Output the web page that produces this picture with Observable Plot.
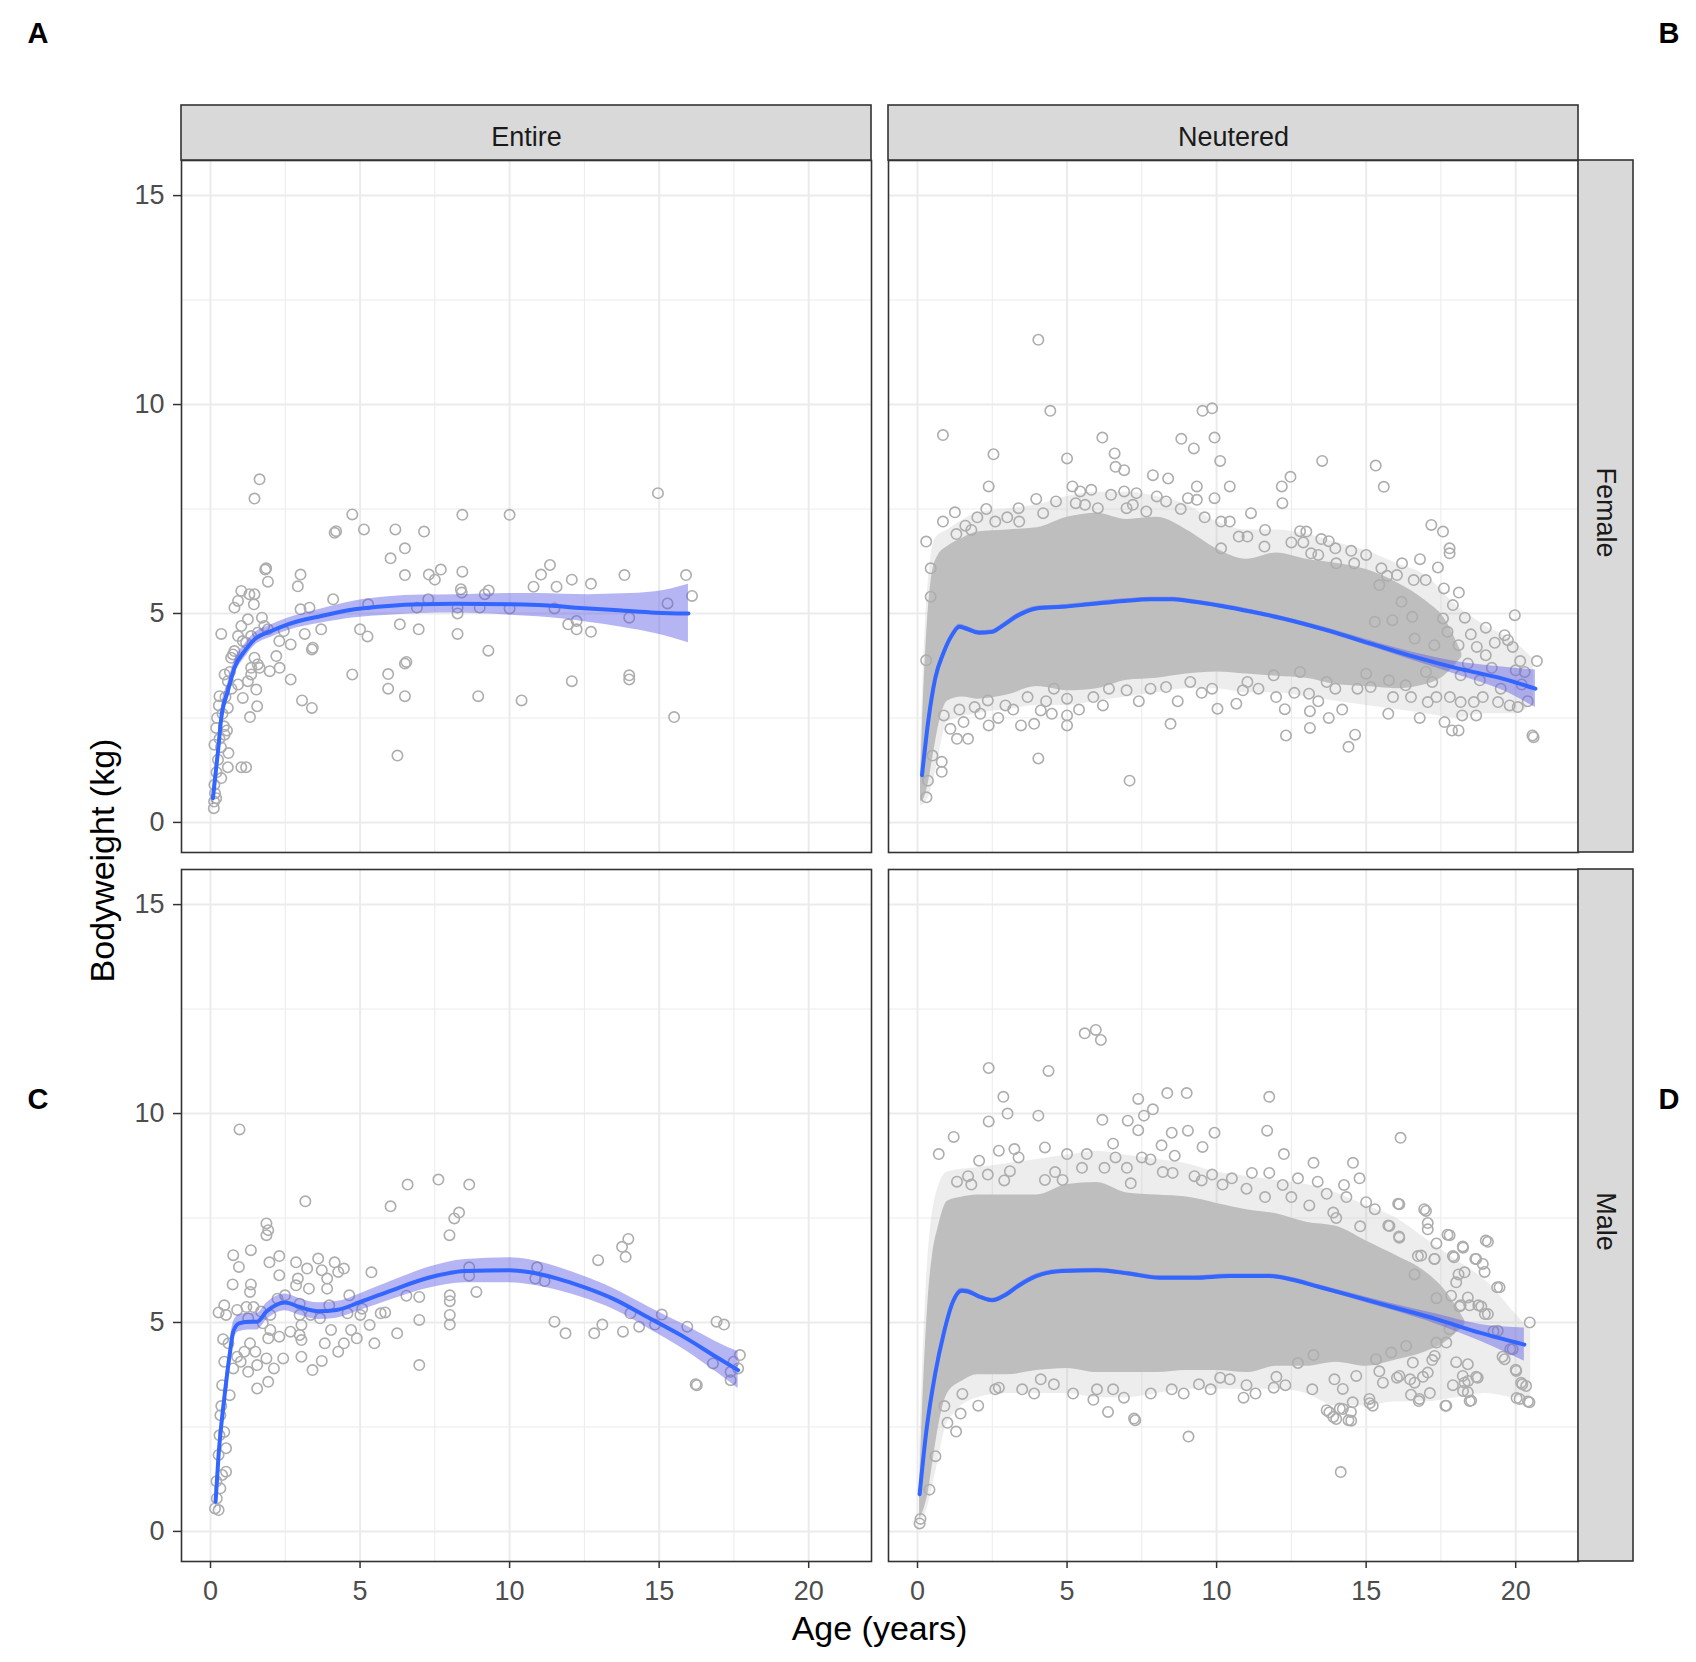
<!DOCTYPE html>
<html>
<head>
<meta charset="utf-8">
<script src="https://cdn.jsdelivr.net/npm/d3@7"></script>
<script src="https://cdn.jsdelivr.net/npm/@observablehq/plot@0.6"></script>
<style>
  html, body { margin: 0; padding: 0; background: #fff; }
  #wrap { position: relative; width: 1696px; height: 1662px; font-family: "Liberation Sans", Arial, sans-serif; }
  #over { position: absolute; left: 0; top: 0; pointer-events: none; }
</style>
</head>
<body>
<div id="wrap"></div>
<script>
// ---------- categories & ticks ----------
const statuses = ["Entire", "Neutered"];
const sexes = ["Female", "Male"];
const panelLetters = ["A", "B", "C", "D"];
const xTicks = [0, 5, 10, 15, 20];
const xMinor = [2.5, 7.5, 12.5, 17.5];
const yTicks = [0, 5, 10, 15];
const yMinor = [2.5, 7.5, 12.5];
const xLabel = "Age (years)";
const yLabel = "Bodyweight (kg)";

// ---------- observed points [age, weight] ----------
const EF_points = [[1.64,8.21],[1.47,7.75],[4.74,7.37],[8.42,7.36],[10.0,7.36],[14.96,7.88],[4.15,6.93],[4.2,6.97],[5.13,7.01],[6.18,7.01],[7.14,6.96],[6.5,6.56],[6.02,6.32],[1.83,6.05],[1.86,6.08],[1.92,5.76],[3.01,5.93],[2.92,5.65],[6.5,5.92],[7.3,5.93],[7.5,5.81],[7.7,6.05],[8.42,6.0],[11.05,5.93],[11.35,6.16],[10.8,5.64],[11.57,5.64],[12.08,5.81],[12.72,5.71],[13.84,5.92],[15.9,5.92],[16.1,5.42],[15.28,5.24],[8.37,5.58],[8.4,5.5],[9.3,5.55],[9.17,5.46],[8.26,5.14],[8.26,5.0],[9.0,5.14],[10.0,5.12],[11.5,5.12],[7.28,5.34],[6.9,5.14],[5.27,5.22],[4.1,5.34],[3.31,5.14],[3.01,5.1],[11.96,4.74],[12.24,4.82],[12.24,4.62],[12.72,4.56],[14.0,4.9],[6.33,4.74],[6.96,4.62],[8.26,4.51],[5.25,4.45],[5.0,4.62],[3.7,4.62],[3.15,4.51],[3.39,4.14],[3.42,4.18],[9.29,4.11],[6.5,3.8],[6.55,3.84],[5.94,3.55],[5.94,3.2],[6.5,3.02],[4.74,3.54],[2.68,3.42],[3.06,2.92],[3.39,2.74],[8.95,3.02],[10.4,2.92],[12.08,3.38],[14.0,3.52],[14.0,3.42],[15.5,2.52],[6.25,1.6],[0.36,4.51],[1.32,2.52],[1.56,2.78],[1.03,1.32],[1.19,1.32],[0.58,1.32],[0.6,1.66],[1.03,5.54],[1.3,5.46],[1.47,5.46],[0.8,5.14],[0.92,5.3],[1.45,5.22],[1.25,4.86],[1.72,4.9],[1.03,4.7],[0.92,4.46],[1.19,4.3],[1.92,4.62],[2.2,3.98],[2.31,3.7],[1.98,3.62],[1.58,3.78],[1.36,3.54],[1.53,3.18],[1.08,2.98],[0.92,3.3],[0.75,4.02],[0.47,3.54],[0.58,2.74],[0.3,3.02],[0.19,2.26],[0.13,1.86],[0.13,0.9],[0.11,0.34],[0.19,0.58],[0.36,1.06],[0.47,2.1],[0.69,3.94],[0.8,4.1],[0.58,3.38],[1.25,3.38],[1.47,3.94],[1.64,3.7],[1.36,3.7],[1.08,4.34],[1.36,4.46],[1.58,4.54],[1.8,4.7],[2.3,4.34],[2.68,4.26],[2.45,4.58],[0.2,1.2],[0.25,1.5],[0.3,2.0],[0.15,0.7],[0.4,2.6],[0.5,3.0],[0.65,3.6],[0.22,2.5],[0.35,1.8],[0.45,2.3],[0.12,0.5],[0.28,2.8],[0.55,2.2],[0.7,3.2]];

const EM_points = [[0.97,9.62],[3.17,7.9],[6.59,8.3],[7.62,8.42],[8.65,8.3],[6.02,7.78],[8.31,7.63],[8.15,7.49],[7.99,7.09],[1.87,7.37],[1.93,7.21],[1.87,7.09],[0.76,6.61],[1.35,6.73],[0.95,6.33],[1.97,6.44],[2.3,6.59],[2.86,6.44],[3.6,6.53],[4.15,6.44],[4.46,6.29],[4.27,6.21],[3.23,6.29],[3.72,6.25],[2.3,6.13],[2.92,6.05],[2.86,5.89],[3.9,6.05],[3.9,5.81],[3.29,5.81],[0.74,5.91],[1.35,5.91],[1.32,5.73],[5.38,6.2],[12.96,6.49],[13.97,7.0],[13.76,6.81],[13.88,6.57],[10.92,6.32],[8.65,6.32],[8.65,6.12],[10.86,6.05],[11.17,5.99],[8.89,5.73],[8.0,5.65],[8.0,5.51],[8.0,5.18],[8.0,4.95],[6.98,5.61],[6.55,5.64],[6.98,5.06],[5.84,5.24],[6.24,4.74],[5.48,4.5],[6.98,3.98],[11.5,5.02],[11.87,4.74],[12.83,4.74],[13.1,4.95],[13.79,4.78],[14.33,4.9],[14.86,4.95],[14.04,5.22],[15.09,5.19],[15.94,4.9],[16.92,5.02],[17.17,4.95],[17.7,4.22],[17.49,4.06],[16.8,4.02],[17.39,3.82],[17.39,3.62],[16.22,3.52],[16.26,3.5],[17.64,3.9],[0.27,5.24],[0.46,5.41],[0.52,5.18],[0.89,5.3],[1.2,5.37],[1.44,5.37],[1.69,5.26],[1.26,5.1],[1.75,4.98],[2.0,5.18],[2.24,5.57],[2.49,5.65],[2.98,5.45],[2.98,5.18],[3.04,4.94],[2.98,4.7],[3.04,4.58],[2.67,4.78],[2.3,4.66],[2.0,4.82],[1.93,4.62],[1.32,4.5],[1.13,4.3],[0.89,4.18],[0.76,3.9],[1.26,3.82],[1.56,3.42],[1.93,3.58],[2.12,3.9],[2.43,4.14],[1.87,4.14],[1.56,3.98],[1.01,4.06],[1.5,4.3],[3.04,4.18],[3.41,3.86],[3.72,4.08],[3.82,4.5],[4.27,4.3],[4.46,4.5],[4.03,4.82],[4.7,4.82],[4.89,4.62],[5.32,4.94],[5.01,5.18],[4.58,5.22],[3.97,5.41],[4.64,5.65],[5.07,5.33],[5.69,5.22],[3.66,5.1],[3.35,5.18],[0.46,4.06],[0.39,3.5],[0.64,3.26],[0.33,2.78],[0.46,2.38],[0.27,1.83],[0.39,1.35],[0.21,0.79],[0.27,0.51],[0.15,0.55],[0.52,1.43],[0.52,1.99],[0.33,1.03],[0.36,3.0],[0.42,4.6],[0.6,4.5],[0.2,1.2],[0.3,2.3]];

const NF_points = [[4.04,11.55],[4.44,9.85],[0.85,9.27],[6.18,9.21],[9.53,9.85],[9.85,9.91],[9.93,9.21],[8.82,9.18],[9.24,8.95],[10.12,8.65],[2.54,8.81],[5.0,8.71],[6.59,8.83],[2.38,8.04],[13.53,8.65],[15.32,8.54],[15.59,8.03],[12.18,8.04],[12.47,8.27],[12.2,7.64],[11.15,7.4],[10.44,8.04],[9.34,8.04],[17.18,7.12],[17.57,6.96],[17.79,6.56],[17.79,6.44],[11.62,7.0],[12.79,6.97],[13.0,6.96],[13.5,6.78],[13.75,6.73],[13.97,6.56],[14.0,6.2],[13.16,6.44],[15.51,6.08],[16.03,5.92],[16.99,5.8],[17.57,4.88],[19.0,4.66],[19.97,4.96],[19.63,4.48],[19.74,4.36],[20.15,3.86],[20.71,3.86],[20.0,3.64],[20.07,2.76],[20.56,2.08],[20.6,2.04],[19.41,2.88],[18.68,2.56],[18.21,2.56],[18.6,2.88],[18.16,2.88],[17.87,2.2],[18.09,2.2],[17.62,2.4],[16.79,2.5],[15.74,2.6],[14.63,2.1],[14.41,1.81],[13.75,2.5],[13.12,2.26],[12.32,2.08],[13.12,2.66],[12.28,2.71],[11.99,3.0],[10.66,2.84],[10.03,2.72],[8.46,2.36],[7.09,1.0],[4.04,1.53],[5.0,2.32],[5.0,2.56],[4.49,2.6],[4.12,2.68],[3.9,2.36],[3.46,2.32],[2.38,2.32],[1.69,2.0],[1.32,2.0],[0.81,1.45],[0.81,1.21],[0.29,3.88],[0.44,5.4],[0.44,6.08],[0.29,6.72],[1.25,7.42],[0.85,7.2],[3.38,7.52],[3.97,7.74],[4.63,7.68],[5.18,8.04],[5.44,7.92],[5.81,7.96],[6.47,7.84],[6.91,7.92],[7.32,7.88],[7.87,8.31],[8.38,8.23],[8.31,7.68],[7.65,7.44],[6.99,7.52],[6.03,7.52],[5.29,7.64],[6.62,8.51],[6.91,8.43],[9.04,7.76],[9.34,7.72],[9.93,7.76],[10.15,7.2],[10.44,7.2],[10.74,6.84],[11.03,6.84],[10.15,6.56],[15.0,3.56],[15.29,4.8],[15.88,4.84],[16.54,4.92],[16.62,4.4],[17.28,4.24],[18.09,4.24],[17.72,4.56],[18.16,3.52],[17.21,3.36],[17.35,3.0],[17.06,2.88],[16.32,3.28],[15.76,3.4],[15.15,3.24],[14.71,3.2],[13.97,3.2],[13.68,3.36],[13.09,3.08],[12.79,3.6],[11.91,3.52],[11.03,3.36],[10.88,3.16],[9.85,3.2],[9.12,3.36],[8.31,3.24],[7.79,3.2],[6.99,3.16],[6.4,3.2],[5.88,3.0],[5.0,2.96],[4.56,3.2],[3.68,3.0],[2.94,2.8],[2.35,2.92],[1.91,2.76],[1.54,2.4],[1.1,2.24],[0.88,2.56],[16.59,5.8],[15.44,5.68],[16.18,5.28],[1.6,7.1],[2.0,7.3],[2.6,7.2],[3.0,7.3],[1.3,6.9],[4.2,7.4],[8.8,7.5],[12.5,6.7],[14.5,6.5],[15.0,6.4],[16.2,6.2],[18.5,4.5],[19.0,4.0],[18.8,3.4],[19.5,3.2],[20.2,3.3],[20.4,2.9],[19.2,3.7],[0.3,0.6],[0.35,1.0],[0.5,1.6],[17.9,5.2],[18.3,4.9],[18.7,4.2],[19.3,4.3],[17.6,5.6],[18.1,5.5],[16.8,6.3],[17.4,6.1],[18.9,3.0],[19.8,2.8],[20.3,3.6],[19.9,4.2],[17.0,3.6],[17.8,3.0],[16.5,3.0],[15.9,3.0],[18.4,3.8],[14.2,2.7],[13.4,2.9],[12.6,3.1],[11.4,3.2],[9.5,3.1],[8.7,2.9],[7.4,2.9],[6.2,2.8],[5.4,2.7],[4.3,2.9],[3.2,2.7],[2.7,2.5],[2.1,2.6],[1.4,2.7],[1.8,7.0],[2.3,7.5],[3.4,7.2],[5.6,7.6],[7.2,7.6],[8.0,7.8],[9.6,7.3],[11.6,6.6],[12.9,6.7],[13.4,6.4],[14.6,6.2],[15.7,5.9]];

const NM_points = [[5.59,11.92],[5.96,12.0],[6.13,11.76],[2.38,11.09],[4.38,11.02],[2.87,10.4],[3.01,10.0],[2.38,9.81],[4.04,9.95],[7.38,10.35],[7.87,10.1],[7.57,9.95],[8.35,10.49],[9.0,10.49],[11.76,10.4],[11.69,9.59],[16.15,9.42],[6.18,9.85],[7.03,9.83],[7.38,9.6],[8.5,9.54],[9.04,9.59],[9.93,9.54],[1.21,9.44],[0.71,9.03],[2.06,8.87],[12.25,9.03],[13.24,8.82],[14.56,8.82],[14.78,8.45],[16.07,7.84],[16.94,7.71],[15.74,7.32],[17.72,7.1],[19.0,6.96],[18.24,6.79],[18.65,6.52],[18.9,6.4],[19.38,5.84],[18.97,5.2],[20.47,5.0],[18.75,5.41],[19.26,4.79],[19.82,4.36],[19.56,4.18],[20.0,3.87],[20.22,3.52],[20.03,3.19],[20.41,3.11],[18.68,3.7],[18.41,3.6],[18.24,3.36],[18.46,3.12],[18.01,4.05],[17.65,3.01],[16.76,3.12],[16.5,3.27],[16.47,3.64],[16.03,3.68],[15.12,3.07],[14.49,2.86],[14.12,2.94],[13.68,2.9],[13.9,2.74],[14.41,2.66],[14.15,1.42],[9.06,2.27],[7.24,2.7],[7.28,2.66],[6.37,2.86],[5.88,3.15],[6.54,3.4],[2.03,3.01],[1.29,2.39],[1.44,2.82],[1.5,3.29],[2.72,3.44],[4.56,3.52],[4.12,3.64],[9.41,3.52],[10.12,3.68],[10.44,3.64],[11.91,3.44],[12.72,4.03],[13.24,4.22],[17.13,3.31],[15.44,3.83],[17.21,4.1],[17.79,4.84],[1.32,8.37],[1.69,8.5],[2.35,8.54],[2.72,9.11],[3.24,9.15],[3.38,8.95],[4.26,9.19],[5.0,9.03],[5.66,9.03],[6.54,9.28],[6.62,8.95],[6.25,8.7],[7.5,8.95],[7.79,8.9],[8.16,9.24],[8.6,8.99],[9.53,9.2],[9.85,8.54],[9.26,8.5],[8.53,8.58],[7.13,8.33],[4.85,8.41],[4.26,8.41],[3.09,8.62],[11.18,8.58],[11.76,8.58],[12.72,8.45],[13.38,8.37],[14.26,8.29],[13.68,8.08],[14.34,8.0],[15.0,7.88],[15.29,7.71],[13.9,7.63],[12.21,8.29],[11.62,8.0],[10.51,8.45],[17.06,7.38],[17.35,6.89],[16.84,6.6],[17.28,6.52],[17.94,6.56],[16.1,7.06],[16.62,6.15],[18.09,6.15],[18.16,5.41],[18.46,5.41],[17.35,5.58],[0.07,0.19],[0.1,0.3],[0.4,1.0],[0.6,1.8],[1.0,2.6],[0.9,3.0],[3.5,3.4],[5.2,3.3],[7.8,3.3],[8.5,3.4],[11.3,3.3],[12.3,3.5],[10.9,3.2],[13.2,3.4],[16.9,3.7],[17.9,3.5],[16.11,7.83],[17.0,7.67],[15.78,7.31],[16.11,7.03],[17.06,7.23],[17.79,7.09],[19.07,6.93],[18.23,6.82],[18.68,6.52],[18.96,6.21],[17.9,6.59],[17.29,6.52],[16.73,6.59],[19.46,5.84],[18.29,6.2],[18.01,5.96],[17.84,5.64],[18.4,5.6],[18.85,5.38],[19.07,5.2],[18.12,5.38],[19.4,4.8],[19.9,4.36],[19.63,4.12],[20.02,3.84],[20.18,3.56],[20.35,3.48],[20.13,3.17],[20.46,3.09],[18.73,3.68],[18.4,4.0],[17.68,4.52],[17.68,3.01],[18.29,3.56],[18.4,3.33],[18.51,3.13],[18.23,3.72],[16.78,3.17],[16.62,3.56],[17.06,3.8],[16.11,3.72],[15.56,3.56],[15.11,3.17],[15.22,3.01],[14.55,3.09],[14.22,2.93],[13.77,2.85],[14.0,2.69],[14.5,2.65],[14.22,3.41],[13.94,3.64],[14.67,3.72],[16.56,4.04],[17.29,4.2],[17.35,4.52],[16.34,4.44],[15.84,4.28],[15.33,4.12],[2.6,3.4],[3.9,3.3],[6.0,3.4],[6.9,3.2],[8.9,3.3],[9.8,3.4],[11.0,3.5],[12.0,3.7],[1.8,8.3],[2.9,8.4],[4.6,8.6],[5.5,8.7],[7.0,8.7],[8.2,8.6],[9.5,8.4],[10.2,8.3],[11.0,8.2],[12.5,8.0],[13.1,7.8],[14.0,7.5],[14.8,7.3]];

// ---------- dense point mass in the neutered panels (read envelopes) ----------
const NF_core_age = [0.1, 0.2, 0.35, 0.5, 0.7, 1.0, 1.5, 2, 3, 4, 5, 6, 7, 8, 9, 10, 11, 12, 13, 14, 15, 16, 17, 17.6, 18.2];
const NF_core_lo  = [0.5, 0.55, 0.9, 1.5, 2.3, 2.9, 3.0, 2.95, 3.05, 3.25, 3.15, 3.2, 3.4, 3.45, 3.55, 3.6, 3.55, 3.5, 3.45, 3.3, 3.25, 3.2, 3.3, 3.5, 3.95];
const NF_core_hi  = [1.0, 3.0, 5.0, 6.0, 6.4, 6.6, 6.8, 6.95, 7.0, 7.05, 7.3, 7.4, 7.25, 7.3, 7.0, 6.55, 6.3, 6.45, 6.3, 6.2, 6.05, 5.75, 5.3, 4.9, 4.05];
const NF_halo_age = [0.1, 0.3, 0.6, 1.0, 2, 3, 4, 5, 6, 7, 8, 9, 10, 11, 12, 13, 14, 15, 16, 17, 18, 19, 20, 20.6];
const NF_halo_lo  = [0.4, 0.5, 1.2, 2.4, 2.6, 2.7, 2.8, 2.8, 2.9, 3.0, 3.1, 3.2, 3.2, 3.1, 3.1, 3.0, 2.9, 2.8, 2.7, 2.6, 2.5, 2.6, 2.6, 2.9];
const NF_halo_hi  = [1.8, 5.2, 6.8, 7.0, 7.4, 7.5, 7.6, 7.8, 7.9, 7.9, 7.8, 7.6, 7.2, 7.0, 7.0, 6.9, 6.7, 6.5, 6.2, 5.9, 5.2, 4.7, 4.3, 3.9];
const NM_core_age = [0.07, 0.2, 0.35, 0.5, 0.7, 1.0, 1.5, 2, 3, 4, 5, 6, 7, 8, 9, 10, 11, 12, 13, 14, 15, 16, 17, 17.6, 18.3];
const NM_core_lo  = [0.3, 0.5, 0.9, 1.6, 2.5, 3.3, 3.6, 3.75, 3.75, 3.85, 3.9, 3.8, 3.8, 3.8, 3.85, 3.85, 3.8, 3.95, 3.95, 4.05, 3.95, 4.1, 4.3, 4.5, 4.95];
const NM_core_hi  = [1.0, 3.5, 5.5, 6.6, 7.3, 7.9, 8.0, 8.05, 8.05, 8.05, 8.3, 8.35, 8.1, 8.05, 8.0, 7.85, 7.7, 7.6, 7.4, 7.3, 6.95, 6.6, 6.2, 5.8, 5.05];
const NM_halo_age = [0.07, 0.3, 0.6, 1.0, 2, 3, 4, 5, 6, 7, 8, 9, 10, 11, 12, 13, 14, 15, 16, 17, 18, 19, 20, 20.5];
const NM_halo_lo  = [0.2, 0.5, 1.4, 2.6, 3.2, 3.3, 3.3, 3.3, 3.2, 3.2, 3.3, 3.4, 3.4, 3.4, 3.4, 3.3, 3.0, 3.0, 3.1, 3.1, 3.2, 3.3, 3.2, 3.2];
const NM_halo_hi  = [2.0, 6.0, 8.0, 8.6, 8.7, 8.8, 8.9, 9.0, 9.1, 9.0, 8.9, 8.8, 8.6, 8.5, 8.4, 8.3, 8.1, 7.8, 7.5, 7.0, 6.5, 6.0, 5.2, 4.8];

// ---------- smoothed fits (age, fitted weight, ribbon half-width) ----------
const EF_fit_age = [0.08,0.25,0.36,0.58,0.8,1.14,1.47,2.03,2.59,3.7,4.82,5.94,7.05,8.17,10.0,10.95,12.63,13.75,14.87,15.98];
const EF_fit     = [0.58,1.7,2.5,3.14,3.7,4.1,4.38,4.58,4.74,4.94,5.1,5.18,5.22,5.23,5.22,5.2,5.12,5.07,5.02,5.0];
const EF_se      = [0.3,0.25,0.22,0.2,0.18,0.16,0.15,0.15,0.15,0.17,0.2,0.22,0.22,0.22,0.26,0.28,0.33,0.4,0.5,0.7];
const EM_fit_age = [0.17,0.27,0.46,0.64,0.76,0.95,1.26,1.56,1.87,2.49,2.98,3.6,4.21,5.01,6.06,7.29,8.52,10.0,10.62,11.6,12.46,13.45,14.68,15.91,16.9,17.64];
const EM_fit     = [0.71,1.83,3.18,4.22,4.78,4.98,5.02,5.02,5.26,5.48,5.37,5.27,5.3,5.49,5.77,6.07,6.23,6.25,6.21,6.05,5.85,5.57,5.1,4.62,4.18,3.86];
const EM_se      = [0.3,0.28,0.26,0.24,0.22,0.2,0.2,0.2,0.2,0.2,0.2,0.2,0.2,0.2,0.22,0.25,0.28,0.3,0.3,0.28,0.26,0.25,0.26,0.3,0.36,0.44];
const NF_fit_age = [0.15,0.37,0.59,0.88,1.15,1.4,1.62,2.06,2.5,2.79,3.38,3.97,4.85,5.74,6.91,7.79,8.53,9.26,10.15,11.18,12.21,13.68,15.15,16.62,18.09,19.56,20.66];
const NF_fit     = [1.13,2.48,3.44,4.08,4.48,4.68,4.64,4.54,4.56,4.68,4.96,5.12,5.16,5.22,5.3,5.34,5.34,5.28,5.18,5.04,4.88,4.6,4.28,3.96,3.68,3.44,3.2];
const NF_se      = [0.12,0.1,0.08,0.07,0.06,0.06,0.06,0.05,0.05,0.05,0.05,0.05,0.05,0.05,0.05,0.05,0.05,0.05,0.05,0.05,0.05,0.06,0.07,0.1,0.16,0.28,0.45];
const NM_fit_age = [0.07,0.29,0.59,0.88,1.18,1.47,1.69,2.06,2.5,2.94,3.38,3.97,4.85,6.03,7.06,8.09,9.26,10.44,11.76,12.5,13.38,14.41,15.88,17.35,18.82,20.29];
const NM_fit     = [0.89,2.37,3.77,4.75,5.49,5.76,5.74,5.62,5.53,5.66,5.88,6.11,6.23,6.25,6.17,6.07,6.07,6.11,6.11,6.03,5.86,5.66,5.37,5.08,4.75,4.47];
const NM_se      = [0.12,0.1,0.08,0.07,0.06,0.06,0.06,0.05,0.05,0.05,0.05,0.05,0.05,0.05,0.05,0.05,0.05,0.05,0.05,0.05,0.05,0.06,0.08,0.12,0.2,0.4];

// ---------- build tables ----------
const panels = [
  {status: "Entire",   sex: "Female", pts: EF_points, fa: EF_fit_age, f: EF_fit, se: EF_se},
  {status: "Neutered", sex: "Female", pts: NF_points, fa: NF_fit_age, f: NF_fit, se: NF_se},
  {status: "Entire",   sex: "Male",   pts: EM_points, fa: EM_fit_age, f: EM_fit, se: EM_se},
  {status: "Neutered", sex: "Male",   pts: NM_points, fa: NM_fit_age, f: NM_fit, se: NM_se}
];
const points = panels.flatMap(p => p.pts.map(([age, wt]) => ({status: p.status, sex: p.sex, age, wt})));
const fits = panels.flatMap(p => p.fa.map((age, i) => ({status: p.status, sex: p.sex, age, fit: p.f[i], lo: p.f[i] - p.se[i], hi: p.f[i] + p.se[i]})));
const band = (sex, ages, lo, hi) => ages.map((age, i) => ({status: "Neutered", sex, age, lo: lo[i], hi: hi[i]}));
const core = [...band("Female", NF_core_age, NF_core_lo, NF_core_hi), ...band("Male", NM_core_age, NM_core_lo, NM_core_hi)];
const halo = [...band("Female", NF_halo_age, NF_halo_lo, NF_halo_hi), ...band("Male", NM_halo_age, NM_halo_lo, NM_halo_hi)];

// ---------- layout ----------
const W = 1696, H = 1662;
const mL = 181, mR = 118, mT = 160, mB = 101;
const panelW = 690, panelH = 692, gap = 17;
const xDom = [-0.97, 22.1], yDom = [-0.72, 15.84];
const pxX = panelW / (xDom[1] - xDom[0]);
const pxY = panelH / (yDom[1] - yDom[0]);
const stripPx = 55;
const stripTopY2 = yDom[1] + stripPx / pxY;
const stripRightX2 = xDom[1] + stripPx / pxX;
const stripsTop = statuses.map(s => ({status: s, sex: "Female", label: s}));
const stripsRight = sexes.map(s => ({status: "Neutered", sex: s, label: s}));
const FONT = "'Liberation Sans', Arial, Helvetica, sans-serif";
const PT = "#adadad";

const chart = Plot.plot({
  width: W, height: H,
  marginLeft: mL, marginRight: mR, marginTop: mT, marginBottom: mB,
  style: {fontFamily: FONT, background: "white", overflow: "visible"},
  fx: {domain: statuses, paddingInner: gap / (panelW + gap), paddingOuter: 0, axis: null},
  fy: {domain: sexes, paddingInner: gap / (panelH + gap), paddingOuter: 0, axis: null},
  x: {domain: xDom, label: null},
  y: {domain: yDom, label: null},
  marks: [
    Plot.gridX(xMinor, {stroke: "#ebebeb", strokeOpacity: 1, strokeWidth: 1}),
    Plot.gridY(yMinor, {stroke: "#ebebeb", strokeOpacity: 1, strokeWidth: 1}),
    Plot.gridX(xTicks, {stroke: "#ebebeb", strokeOpacity: 1, strokeWidth: 2}),
    Plot.gridY(yTicks, {stroke: "#ebebeb", strokeOpacity: 1, strokeWidth: 2}),
    Plot.areaY(halo, {x: "age", y1: "lo", y2: "hi", fx: "status", fy: "sex", fill: "#bebebe", fillOpacity: 0.28, curve: "monotone-x"}),
    Plot.areaY(core, {x: "age", y1: "lo", y2: "hi", fx: "status", fy: "sex", fill: "#bebebe", curve: "monotone-x"}),
    Plot.dot(points, {x: "age", y: "wt", fx: "status", fy: "sex", r: 5.2, stroke: PT, strokeWidth: 1.6, fill: "none"}),
    Plot.areaY(fits, {x: "age", y1: "lo", y2: "hi", fx: "status", fy: "sex", fill: "#5a5ae6", fillOpacity: 0.45, curve: "monotone-x"}),
    Plot.line(fits, {x: "age", y: "fit", fx: "status", fy: "sex", stroke: "#3366FF", strokeWidth: 4, curve: "monotone-x"}),
    Plot.frame({stroke: "#333333", strokeWidth: 1.6}),
    Plot.rect(stripsTop, {x1: () => xDom[0], x2: () => xDom[1], y1: () => yDom[1], y2: () => stripTopY2, fx: "status", fy: "sex", fill: "#d9d9d9", stroke: "#333333", strokeWidth: 1.6}),
    Plot.text(stripsTop, {x: () => (xDom[0] + xDom[1]) / 2, y: () => (yDom[1] + stripTopY2) / 2, text: "label", dy: 4, fx: "status", fy: "sex", fontSize: 27, fill: "#1a1a1a"}),
    Plot.rect(stripsRight, {x1: () => xDom[1], x2: () => stripRightX2, y1: () => yDom[0], y2: () => yDom[1], fx: "status", fy: "sex", fill: "#d9d9d9", stroke: "#333333", strokeWidth: 1.6}),
    Plot.text(stripsRight, {x: () => (xDom[1] + stripRightX2) / 2, y: () => (yDom[0] + yDom[1]) / 2, text: "label", rotate: 90, dy: 6, fx: "status", fy: "sex", fontSize: 27, fill: "#1a1a1a"}),
    Plot.axisX({ticks: xTicks, tickSize: 7, tickPadding: 12, fontSize: 27, stroke: "#333333", fill: "#4d4d4d", strokeWidth: 1.5, label: null}),
    Plot.axisY({ticks: yTicks, tickSize: 8, tickPadding: 9, fontSize: 27, stroke: "#333333", fill: "#4d4d4d", strokeWidth: 1.5, label: null})
  ]
});

const wrap = document.getElementById("wrap");
wrap.appendChild(chart);

// ---------- axis titles and panel letters ----------
const ns = "http://www.w3.org/2000/svg";
const over = document.createElementNS(ns, "svg");
over.setAttribute("id", "over");
over.setAttribute("width", W);
over.setAttribute("height", H);
function addText(txt, x, y, opts = {}) {
  const t = document.createElementNS(ns, "text");
  t.textContent = txt;
  t.setAttribute("x", x);
  t.setAttribute("y", y);
  t.setAttribute("font-family", FONT);
  t.setAttribute("font-size", opts.size || 34);
  t.setAttribute("fill", opts.fill || "#000");
  t.setAttribute("text-anchor", opts.anchor || "middle");
  if (opts.weight) t.setAttribute("font-weight", opts.weight);
  if (opts.rotate) t.setAttribute("transform", `rotate(${opts.rotate} ${x} ${y})`);
  over.appendChild(t);
}
const centerX = mL + (W - mL - mR) / 2;
const centerY = mT + (H - mT - mB) / 2;
addText(xLabel, centerX, 1640, {size: 34});
addText(yLabel, 114, centerY, {size: 34, rotate: -90});
const letterPos = [[38, 43], [1669, 43], [38, 1109], [1669, 1109]];
panelLetters.forEach((L, i) => addText(L, letterPos[i][0], letterPos[i][1], {size: 29, weight: "bold"}));
wrap.appendChild(over);
</script>
</body>
</html>
